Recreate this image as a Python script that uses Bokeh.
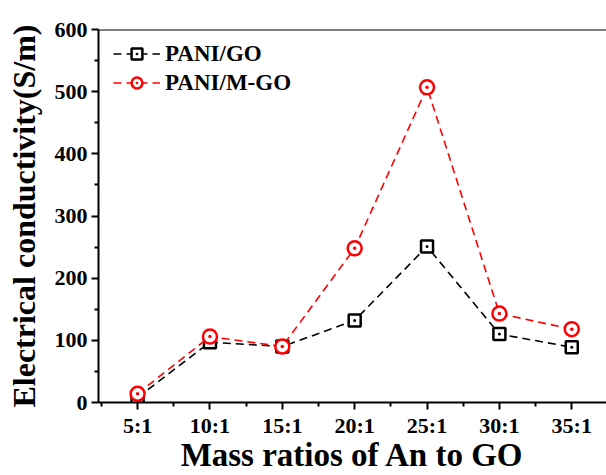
from bokeh.plotting import figure
from bokeh.models import Range1d, FixedTicker, Span, Legend
from bokeh.embed import file_html
from bokeh.resources import INLINE

categories = ["5:1", "10:1", "15:1", "20:1", "25:1", "30:1", "35:1"]
ratios = [5, 10, 15, 20, 25, 30, 35]
pani_go = [8, 97, 90, 132, 251, 110, 89]
pani_mgo = [14, 106, 90, 248, 507, 143, 118]
y_ticks = [0, 100, 200, 300, 400, 500, 600]

FONT = "Liberation Serif"

p = figure(width=606, height=475, output_backend="svg", toolbar_location=None,
           x_range=Range1d(2.3, 37.4), y_range=Range1d(0, 600),
           min_border_left=98, min_border_top=29, min_border_bottom=73, min_border_right=0)
p.outline_line_color = None
p.grid.visible = False
p.background_fill_color = "white"
p.border_fill_color = "white"

p.add_layout(Span(location=600, dimension="width", line_color="black", line_width=2))

l1 = p.line(ratios, pani_go, line_color="black", line_width=1.6, line_dash="8 5")
s1 = p.scatter(ratios, pani_go, marker="square_dot", size=12, line_color="black",
               line_width=2.5, fill_color="white")
l2 = p.line(ratios, pani_mgo, line_color="#ff0000", line_width=1.6, line_dash="8 5")
s2 = p.scatter(ratios, pani_mgo, marker="circle_dot", size=14, line_color="#ff0000",
               line_width=2.5, fill_color="white")

legend = Legend(items=[("PANI/GO", [l1, s1]), ("PANI/M-GO", [l2, s2])],
                location=(15, 306), border_line_color=None, background_fill_alpha=0,
                label_text_font=FONT, label_text_font_style="bold",
                label_text_color="black",
                label_text_font_size="23px", glyph_width=47, glyph_height=27,
                spacing=2, padding=0, margin=0, label_standoff=5)
p.add_layout(legend)

for ax in (p.xaxis[0], p.yaxis[0]):
    ax.axis_line_width = 2
    ax.major_tick_line_width = 2
    ax.minor_tick_line_width = 2
    ax.major_tick_in = 0
    ax.major_tick_out = 7
    ax.minor_tick_in = 0
    ax.minor_tick_out = 4
    ax.major_label_text_font = FONT
    ax.major_label_text_font_style = "bold"
    ax.major_label_text_font_size = "22px"
    ax.major_label_text_color = "black"
    ax.axis_label_text_font = FONT
    ax.axis_label_text_font_style = "bold"
    ax.axis_label_text_font_size = "32px"
    ax.axis_label_text_color = "black"

p.xaxis.ticker = FixedTicker(ticks=ratios, minor_ticks=[r + 2.5 for r in ratios[:-1]] + [2.5])
p.xaxis.major_label_overrides = {r: c for r, c in zip(ratios, categories)}
p.xaxis.axis_label = "Mass ratios of An to GO"
p.xaxis.axis_label_text_font_size = "33px"
p.xaxis.major_label_standoff = 3
p.xaxis.axis_label_standoff = -4

p.yaxis.ticker = FixedTicker(ticks=y_ticks, minor_ticks=[t + 50 for t in y_ticks[:-1]])
p.yaxis.axis_label = "Electrical conductivity(S/m)"
p.yaxis.major_label_standoff = 4
p.yaxis.axis_label_standoff = 10

open("out.html", "w").write(file_html(p, INLINE))
